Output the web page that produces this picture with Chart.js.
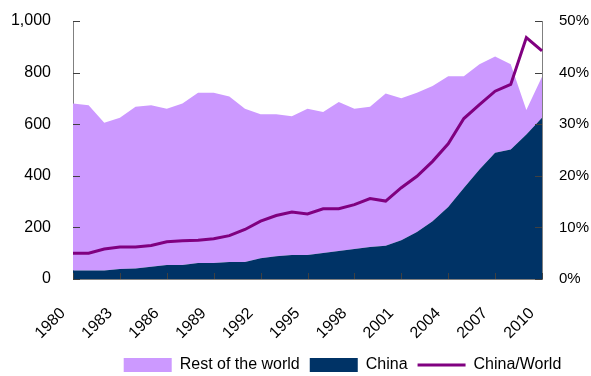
<!DOCTYPE html>
<html>
<head>
<meta charset="utf-8">
<script src="https://cdn.jsdelivr.net/npm/chart.js@4.4.1/dist/chart.umd.min.js"></script>
<style>
  html, body { margin: 0; padding: 0; background: #fff; }
  #chart { display: block; }
</style>
</head>
<body>
<canvas id="chart" width="591" height="376"></canvas>
<script>
const years = ["1980", "1981", "1982", "1983", "1984", "1985", "1986", "1987", "1988", "1989",
  "1990", "1991", "1992", "1993", "1994", "1995", "1996", "1997", "1998", "1999",
  "2000", "2001", "2002", "2003", "2004", "2005", "2006", "2007", "2008", "2009", "2010"];

const chinaValues = [33, 33, 33, 39, 41, 47, 54, 54, 62, 62,
  66, 66, 80, 88, 93, 93, 101, 109, 116, 124,
  129, 150, 182, 224, 279, 353, 424, 489, 502, 560, 625];

const restOfWorldValues = [647, 640, 573, 586, 627, 626, 606, 626, 660, 660,
  641, 594, 559, 551, 538, 567, 546, 577, 544, 544,
  590, 551, 540, 524, 507, 433, 408, 373, 330, 95, 159];

// China/World share, percent (right axis)
const chinaShare = [5.0, 5.0, 5.8, 6.2, 6.2, 6.5, 7.2, 7.4, 7.5, 7.8,
  8.4, 9.6, 11.2, 12.3, 13.0, 12.6, 13.6, 13.6, 14.4, 15.6,
  15.1, 17.7, 19.9, 22.8, 26.2, 31.1, 33.8, 36.4, 37.7, 46.8, 44.2];

const leftTicks = [0, 200, 400, 600, 800, 1000];
const rightTicks = [0, 10, 20, 30, 40, 50];

const FONT = "'Liberation Sans', Arial, sans-serif";
const legendRank = { 1: 0, 0: 1, 2: 2 };

// ticks in the reference point into the plot, so draw them by hand
const innerTicks = {
  id: "innerTicks",
  afterDatasetsDraw(chart) {
    const { ctx, chartArea: a, scales } = chart;
    ctx.save();
    ctx.strokeStyle = "#404040";
    ctx.lineWidth = 1;
    ctx.beginPath();
    for (const v of leftTicks) {
      const y = Math.round(scales.y.getPixelForValue(v)) + 0.5;
      ctx.moveTo(a.left, y);
      ctx.lineTo(a.left + 7, y);
    }
    for (const v of rightTicks) {
      const y = Math.round(scales.y1.getPixelForValue(v)) + 0.5;
      ctx.moveTo(a.right, y);
      ctx.lineTo(a.right - 7, y);
    }
    years.forEach((yr, i) => {
      if (i % 3 !== 0) return;
      const x = Math.round(scales.x.getPixelForValue(i)) + 0.5;
      ctx.moveTo(x, a.bottom);
      ctx.lineTo(x, a.bottom - 6);
    });
    ctx.stroke();
    ctx.restore();
  },
};

// nudge the legend row to where it sits in the reference
const legendNudge = {
  id: "legendNudge",
  afterLayout(chart) {
    const lg = chart.legend;
    if (!lg) return;
    lg.left += 47; lg.right += 47;
    lg.top += 7; lg.bottom += 7;
  },
};

// invisible tick marks used only as spacing between axis and labels
const spacer = (len) => ({
  display: true,
  drawOnChartArea: false,
  drawTicks: true,
  tickLength: len,
  tickColor: "rgba(0,0,0,0)",
});

new Chart(document.getElementById("chart"), {
  type: "line",
  data: {
    labels: years,
    datasets: [
      {
        label: "China",
        data: chinaValues,
        yAxisID: "y",
        fill: "origin",
        backgroundColor: "#003366",
        borderColor: "#003366",
        borderWidth: 0,
        pointRadius: 0,
        pointStyle: "rect",
        tension: 0,
      },
      {
        label: "Rest of the world",
        data: restOfWorldValues,
        yAxisID: "y",
        fill: "-1",
        backgroundColor: "#cc99ff",
        borderColor: "#cc99ff",
        borderWidth: 0,
        pointRadius: 0,
        pointStyle: "rect",
        tension: 0,
      },
      {
        label: "China/World",
        data: chinaShare,
        yAxisID: "y1",
        order: -1,
        fill: false,
        borderColor: "#800080",
        backgroundColor: "#800080",
        borderWidth: 3,
        pointRadius: 0,
        pointStyle: "line",
        tension: 0,
      },
    ],
  },
  options: {
    responsive: false,
    devicePixelRatio: 1,
    animation: false,
    layout: { padding: { top: 21, right: 0, bottom: 0, left: 0 } },
    plugins: {
      tooltip: { enabled: false },
      legend: {
        position: "bottom",
        labels: {
          usePointStyle: true,
          pointStyleWidth: 48,
          boxHeight: 14,
          padding: 10,
          color: "#000",
          font: { family: FONT, size: 16 },
          sort: (a, b) => legendRank[a.datasetIndex] - legendRank[b.datasetIndex],
        },
      },
    },
    scales: {
      x: {
        type: "category",
        offset: false,
        z: 1,
        grid: spacer(25),
        border: { display: true, color: "#808080", width: 1 },
        ticks: {
          autoSkip: false,
          maxRotation: 45,
          minRotation: 45,
          padding: 0,
          labelOffset: -10,
          color: "#000",
          font: { family: FONT, size: 16 },
          callback: function (val, index) {
            return index % 3 === 0 ? this.getLabelForValue(val) : "";
          },
        },
        afterFit: (s) => { s.height = 61; },
      },
      y: {
        position: "left",
        stacked: true,
        min: 0,
        max: 1000,
        z: 1,
        grid: spacer(22),
        border: { display: true, color: "#808080", width: 1 },
        ticks: {
          stepSize: 200,
          padding: 0,
          color: "#000",
          font: { family: FONT, size: 16 },
          callback: (v) => new Intl.NumberFormat("en-US").format(v),
        },
        afterFit: (s) => { s.width = 73; },
      },
      y1: {
        position: "right",
        min: 0,
        max: 50,
        z: 1,
        grid: spacer(17),
        border: { display: true, color: "#808080", width: 1 },
        ticks: {
          stepSize: 10,
          padding: 0,
          color: "#000",
          font: { family: FONT, size: 15 },
          callback: (v) => v + "%",
        },
        afterFit: (s) => { s.width = 49; },
      },
    },
  },
  plugins: [innerTicks, legendNudge],
});
</script>
</body>
</html>
